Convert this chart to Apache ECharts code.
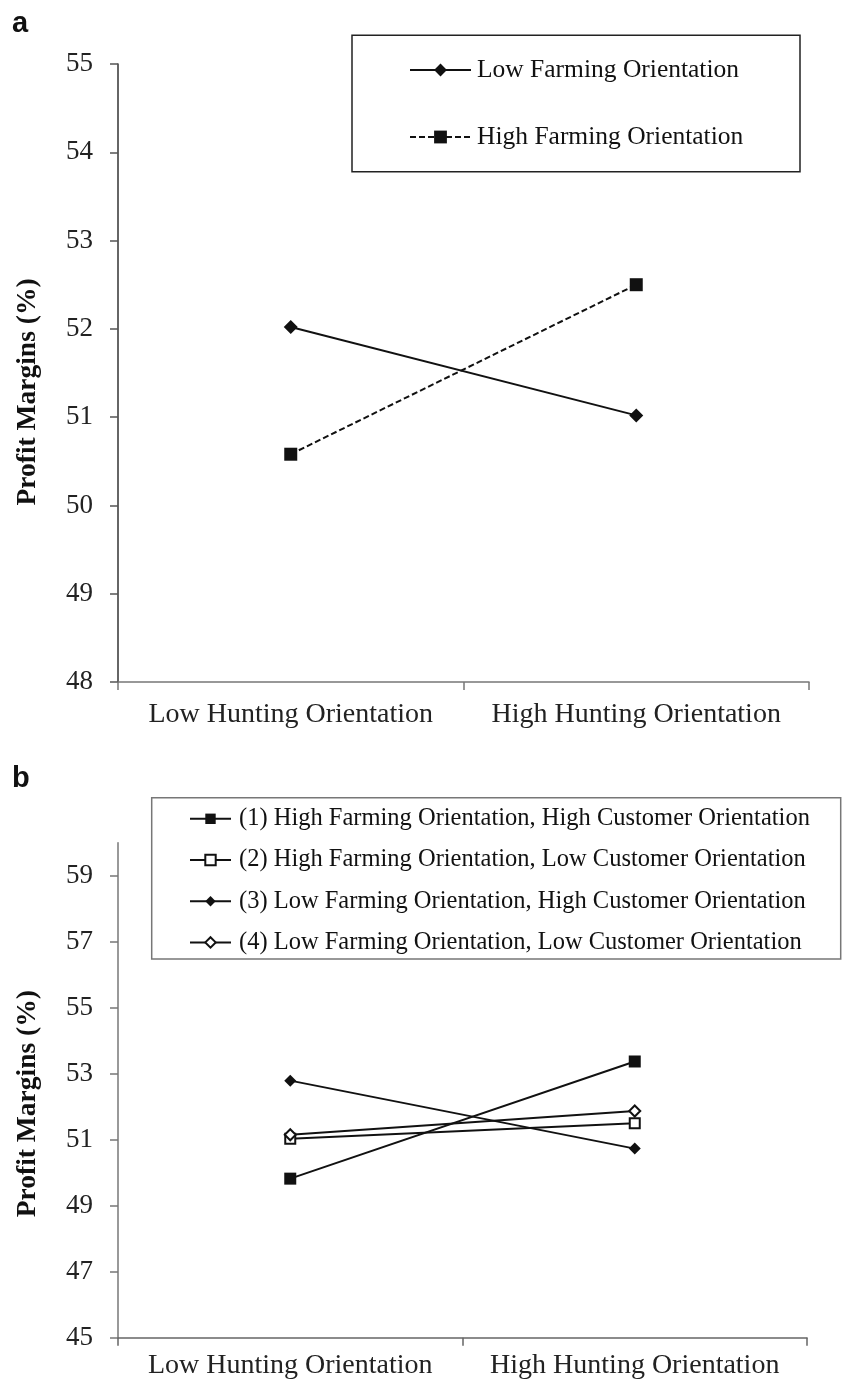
<!DOCTYPE html>
<html>
<head>
<meta charset="utf-8">
<script src="https://cdn.jsdelivr.net/npm/echarts@6/dist/echarts.min.js"></script>
<style>
  html, body { margin: 0; padding: 0; background: #fff; }
  #chart { width: 842px; height: 1381px; }
</style>
</head>
<body>
<div id="chart"></div>
<script>
// ---- Data ----
const categories = ['Low Hunting Orientation', 'High Hunting Orientation'];

// Panel a
const seriesNamesA = ['Low Farming Orientation', 'High Farming Orientation'];
const lowFarmingA = [52.02, 51.02];
const highFarmingA = [50.58, 52.50];
const yTicksA = [48, 49, 50, 51, 52, 53, 54, 55];

// Panel b
const seriesNamesB = [
  '(1) High Farming Orientation, High Customer Orientation',
  '(2) High Farming Orientation, Low Customer Orientation',
  '(3) Low Farming Orientation, High Customer Orientation',
  '(4) Low Farming Orientation, Low Customer Orientation'
];
const hfHcB = [49.82, 53.37];
const hfLcB = [51.03, 51.50];
const lfHcB = [52.79, 50.73];
const lfLcB = [51.15, 51.87];
const yTicksB = [45, 47, 49, 51, 53, 55, 57, 59];

// ---- Chart ----
const SERIF = "'Liberation Serif', 'Times New Roman', serif";
const INK = '#111';
const chart = echarts.init(document.getElementById('chart'), null, { renderer: 'canvas' });

function xAxisCfg(gridIndex, lineColor, labelMargin) {
  return {
    type: 'category', gridIndex, data: categories, boundaryGap: true,
    axisLine: { show: true, lineStyle: { color: lineColor, width: 1.5 } },
    axisTick: { show: true, inside: false, length: 8, lineStyle: { color: lineColor, width: 1.5 } },
    axisLabel: { fontFamily: SERIF, fontSize: 28, color: '#222', margin: labelMargin, interval: 0 },
    splitLine: { show: false }
  };
}

const option = {
  animation: false,
  backgroundColor: '#fff',
  grid: [
    { left: 118, top: 64, width: 691, height: 618, containLabel: false },
    { left: 118, top: 842.7, width: 689, height: 495, containLabel: false }
  ],
  xAxis: [
    xAxisCfg(0, '#777', 19),
    xAxisCfg(1, '#666', 14)
  ],
  yAxis: [
    {
      type: 'value', gridIndex: 0, min: yTicksA[0], max: yTicksA[yTicksA.length - 1], interval: 1,
      axisLine: { show: true, lineStyle: { color: '#333', width: 1.5 } },
      axisTick: { show: true, inside: false, length: 8, lineStyle: { color: '#555', width: 1.5 } },
      axisLabel: { fontFamily: SERIF, fontSize: 27, color: '#222', margin: 25 },
      splitLine: { show: false },
      name: 'Profit Margins (%)', nameLocation: 'middle', nameRotate: 90, nameGap: 76,
      nameTextStyle: { fontFamily: SERIF, fontWeight: 'bold', fontSize: 27.5, color: '#111', padding: [0, 38, 0, 0] }
    },
    {
      type: 'value', gridIndex: 1, min: 45, max: 60,
      axisLine: { show: true, lineStyle: { color: '#777', width: 1.5 } },
      axisTick: { show: true, inside: false, length: 8, customValues: yTicksB, lineStyle: { color: '#777', width: 1.5 } },
      axisLabel: { fontFamily: SERIF, fontSize: 27, color: '#222', margin: 25, customValues: yTicksB },
      splitLine: { show: false },
      name: 'Profit Margins (%)', nameLocation: 'middle', nameRotate: 90, nameGap: 76,
      nameTextStyle: { fontFamily: SERIF, fontWeight: 'bold', fontSize: 27.5, color: '#111', padding: [0, 27, 0, 0] }
    }
  ],
  legend: [
    {
      data: seriesNamesA, orient: 'vertical', left: 409, top: 57, padding: 0,
      itemWidth: 61, itemHeight: 16, itemGap: 41, selectedMode: false,
      textStyle: { fontFamily: SERIF, fontSize: 25.5, lineHeight: 26, color: '#111', padding: [0, 0, 0, 1] }
    },
    {
      data: seriesNamesB, orient: 'vertical', left: 189, top: 806.3, padding: 0,
      itemWidth: 41, itemHeight: 13, itemGap: 16.2, selectedMode: false,
      textStyle: { fontFamily: SERIF, fontSize: 24.5, lineHeight: 24, color: '#111', padding: [0, 0, 0, 3] }
    }
  ],
  graphic: [
    { type: 'rect', shape: { x: 352, y: 35.3, width: 448, height: 136.4 }, style: { fill: 'none', stroke: '#222', lineWidth: 1.5 }, z: 1 },
    { type: 'rect', shape: { x: 151.7, y: 797.7, width: 689, height: 161.3 }, style: { fill: 'none', stroke: '#777', lineWidth: 1.5 }, z: 1 },
    { type: 'text', x: 12, y: 38, style: { text: 'a', font: "bold 29px 'Liberation Sans', Arial, sans-serif", fill: '#111', textVerticalAlign: 'bottom', verticalAlign: 'bottom' } },
    { type: 'text', x: 12, y: 793, style: { text: 'b', font: "bold 29px 'Liberation Sans', Arial, sans-serif", fill: '#111', textVerticalAlign: 'bottom', verticalAlign: 'bottom' } }
  ],
  series: [
    {
      name: seriesNamesA[0], type: 'line', xAxisIndex: 0, yAxisIndex: 0, data: lowFarmingA,
      symbol: 'diamond', symbolSize: 14, showAllSymbol: true,
      lineStyle: { color: INK, width: 2, type: 'solid' }, itemStyle: { color: INK }
    },
    {
      name: seriesNamesA[1], type: 'line', xAxisIndex: 0, yAxisIndex: 0, data: highFarmingA,
      symbol: 'rect', symbolSize: 13,
      lineStyle: { color: INK, width: 2, type: [6, 3] }, itemStyle: { color: INK }
    },
    {
      name: seriesNamesB[0], type: 'line', xAxisIndex: 1, yAxisIndex: 1, data: hfHcB,
      symbol: 'rect', symbolSize: 12,
      lineStyle: { color: INK, width: 2 }, itemStyle: { color: INK }
    },
    {
      name: seriesNamesB[1], type: 'line', xAxisIndex: 1, yAxisIndex: 1, data: hfLcB,
      symbol: 'emptyRect', symbolSize: 10,
      lineStyle: { color: INK, width: 2 }, itemStyle: { color: INK, borderWidth: 1.5 }
    },
    {
      name: seriesNamesB[2], type: 'line', xAxisIndex: 1, yAxisIndex: 1, data: lfHcB,
      symbol: 'diamond', symbolSize: 12,
      lineStyle: { color: INK, width: 2 }, itemStyle: { color: INK }
    },
    {
      name: seriesNamesB[3], type: 'line', xAxisIndex: 1, yAxisIndex: 1, data: lfLcB,
      symbol: 'emptyDiamond', symbolSize: 11,
      lineStyle: { color: INK, width: 2 }, itemStyle: { color: INK, borderWidth: 1.5 }
    }
  ]
};
chart.setOption(option);
</script>
</body>
</html>
